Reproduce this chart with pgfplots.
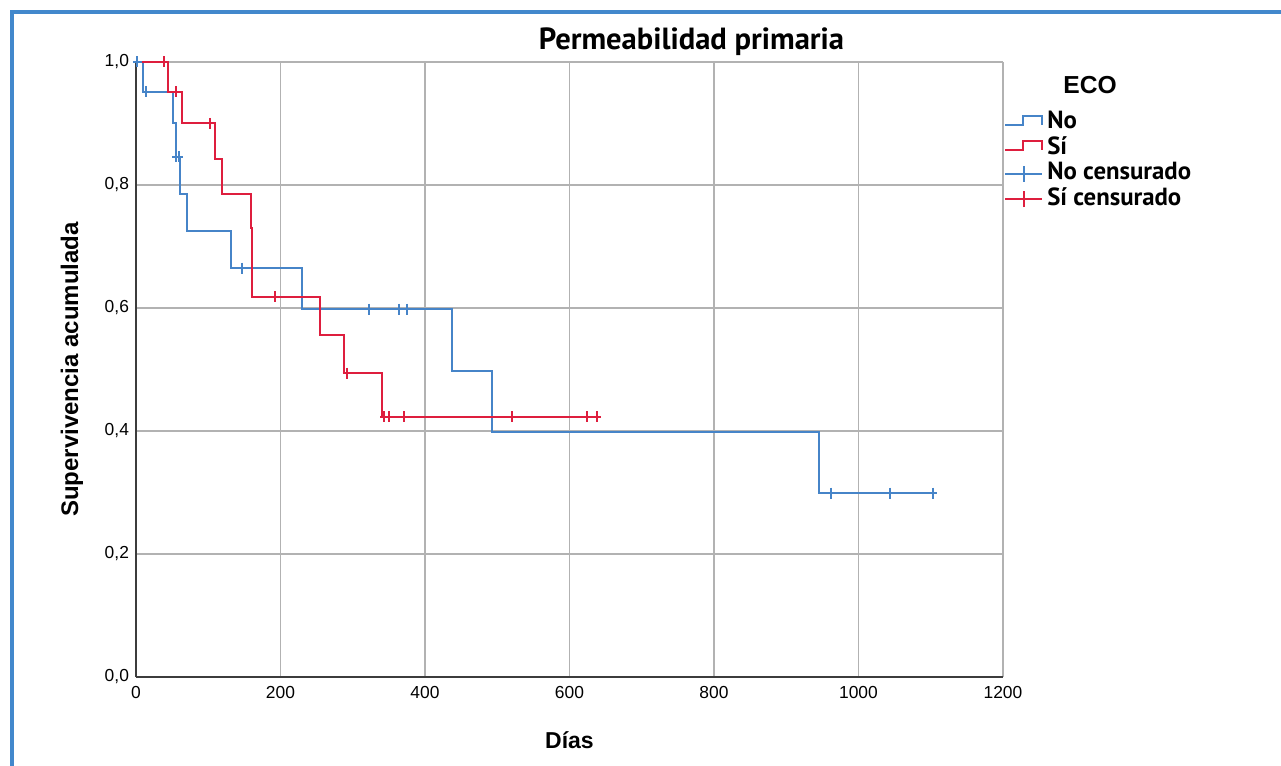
\documentclass[border=0pt]{standalone}
\usepackage{fontspec}
\setmainfont{Liberation Sans}
\newfontfamily\myriad{PT Sans}
\usepackage{pgfplots}
\pgfplotsset{compat=1.18}

\definecolor{kmblue}{RGB}{70,132,200}
\definecolor{kmred}{RGB}{222,30,62}
\definecolor{gridgray}{RGB}{178,178,178}
\definecolor{axisgray}{RGB}{60,60,60}
\definecolor{frameblue}{RGB}{66,136,204}

\begin{document}
\begin{tikzpicture}[x=1pt,y=1pt]
  % page = 1281 x 766 px at 0.5pt/px, origin at the axis' lower left corner
  \useasboundingbox (-68,-44.5) rectangle (572.5,338.5);
  \draw[frameblue, line width=1.6pt] (-62,-50) -- (-62,332.5) -- (580,332.5);

  \begin{axis}[
    at={(0,0)}, anchor=south west,
    scale only axis,
    width=433.5pt, height=307.5pt,
    xmin=0, xmax=1200, ymin=0, ymax=1,
    xtick={0,200,400,600,800,1000,1200},
    ytick={0,0.2,0.4,0.6,0.8,1},
    axis lines*=left,
    axis line style={axisgray, line width=1pt, -},
    major tick length=0pt,
    grid=major,
    every major grid/.style={gridgray, line width=0.8pt},
    /pgf/number format/assume math mode=true,
    tick label style={font=\fontsize{8.7}{10}\selectfont, text=black},
    yticklabel style={/pgf/number format/.cd, fixed, fixed zerofill, precision=1, use comma},
    xticklabel style={yshift=-1pt, /pgf/number format/.cd, 1000 sep={}},
    xlabel={Días},
    ylabel={Supervivencia acumulada},
    xlabel style={font=\bfseries\fontsize{11.5}{13}\selectfont,
      at={(axis description cs:0.5,-0.1024)}, anchor=center},
    ylabel style={font=\bfseries\fontsize{12}{14}\selectfont,
      at={(axis description cs:-0.0738,0.5)}, anchor=center},
    legend style={at={(1.0015,0.921)}, anchor=north west,
      draw=none, fill=none, inner sep=0pt, outer sep=0pt,
      row sep=0.75pt, column sep=2pt,
      nodes={inner sep=0pt, text height=9pt, text depth=3pt},
      font=\myriad\bfseries\fontsize{12.4}{14}\selectfont},
    legend cell align=left,
    clip=false,
  ]
    % Kaplan-Meier steps, group "No"
    \addplot[const plot, kmblue, line width=1pt, forget plot] coordinates {
      (0,1.000) (10,0.952) (51,0.900) (56,0.846) (61,0.786) (70,0.725)
      (132,0.665) (230,0.598) (438,0.498) (493,0.399) (945,0.299) (1103,0.299)
    };
    % Kaplan-Meier steps, group "Si"
    \addplot[const plot, kmred, line width=1pt, forget plot] coordinates {
      (0,1.000) (44,0.952) (64,0.900) (109,0.843) (118.6,0.786) (158.5,0.730)
      (161,0.618) (254.7,0.556) (288,0.494) (340,0.423) (638.5,0.423)
    };
    % censored cases
    \addplot[only marks, mark=+, kmblue, mark size=2.75pt,
      mark options={xscale=0.75, line width=1pt}, forget plot] coordinates {
      (2,1.000) (14,0.952) (56,0.846) (60,0.846) (147,0.665)
      (322,0.598) (364,0.598) (375,0.598) (962,0.299) (1043,0.299) (1103,0.299)
    };
    \addplot[only marks, mark=+, kmred, mark size=2.75pt,
      mark options={xscale=0.75, line width=1pt}, forget plot] coordinates {
      (39,1.000) (55,0.952) (102,0.900) (192,0.618) (291.6,0.494)
      (343.7,0.423) (350.6,0.423) (370.5,0.423) (521,0.423) (624,0.423) (638.5,0.423)
    };

    \addlegendimage{legend image code/.code={
      \draw[kmblue, line width=1pt] (0pt,-1pt) -- (9pt,-1pt) -- (9pt,3.5pt) -- (18.5pt,3.5pt) -- (18.5pt,-1pt);}}
    \addlegendentry{No}
    \addlegendimage{legend image code/.code={
      \draw[kmred, line width=1pt] (0pt,-1pt) -- (9pt,-1pt) -- (9pt,3.5pt) -- (18.5pt,3.5pt) -- (18.5pt,-1pt);}}
    \addlegendentry{Sí}
    \addlegendimage{legend image code/.code={
      \draw[kmblue, line width=1pt] (0pt,0pt) -- (18.5pt,0pt) (9.25pt,-4pt) -- (9.25pt,4pt);}}
    \addlegendentry{No censurado}
    \addlegendimage{legend image code/.code={
      \draw[kmred, line width=1pt] (0pt,0pt) -- (18.5pt,0pt) (9.25pt,-4pt) -- (9.25pt,4pt);}}
    \addlegendentry{Sí censurado}
  \end{axis}

  \node[font=\myriad\bfseries\fontsize{15.3}{17}\selectfont, anchor=center] at (277.75,317.5) {Permeabilidad primaria};
  \node[font=\bfseries\fontsize{12.3}{14}\selectfont, anchor=center] at (477,296) {ECO};
\end{tikzpicture}
\end{document}
